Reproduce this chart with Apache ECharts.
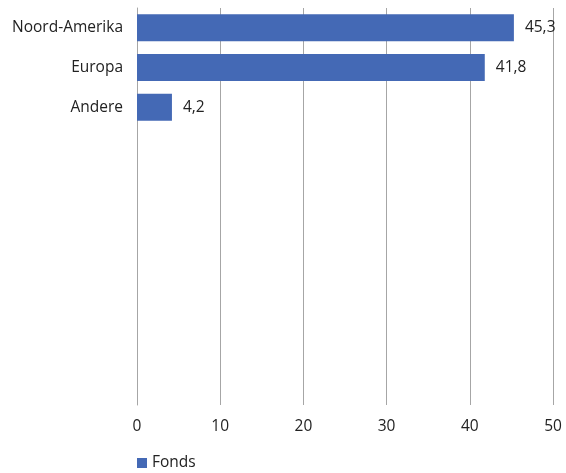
<!DOCTYPE html>
<html>
<head>
<meta charset="utf-8">
<script src="https://cdn.jsdelivr.net/npm/echarts@6/dist/echarts.min.js"></script>
<style>
  html, body { margin: 0; padding: 0; background: #fff; }
  #chart { width: 566px; height: 473px; }
</style>
</head>
<body>
<div id="chart"></div>
<script>
// regio's (de lege plekken zijn lege categorieen in het origineel)
var regions = ['Noord-Amerika', 'Europa', 'Andere', ' ', '  ', '   ', '    ', '     ', '      ', '       '];
var fondsValues = [45.3, 41.8, 4.2, null, null, null, null, null, null, null];
var seriesName = 'Fonds';

var myChart = echarts.init(document.getElementById('chart'));
var font = '"Open Sans", "Noto Sans", sans-serif';

var option = {
    animation: false,
    textStyle: { fontFamily: font },
    grid: {
        left: 137,
        right: 13,
        top: 8,
        bottom: 68
    },
    legend: {
        data: [seriesName],
        left: 132,
        bottom: -3,
        icon: 'rect',
        itemWidth: 10,
        itemHeight: 10,
        textStyle: { fontSize: 15.5, color: '#222', fontFamily: font }
    },
    xAxis: {
        type: 'value',
        min: 0,
        max: 50,
        interval: 10,
        axisLine: { show: false },
        axisTick: { show: false },
        splitLine: { show: true, lineStyle: { color: '#a6a6a6', width: 1 } },
        axisLabel: { fontSize: 15.5, color: '#222', margin: 14, fontFamily: font }
    },
    yAxis: {
        type: 'category',
        inverse: true,
        data: regions,
        axisLine: { show: true, lineStyle: { color: '#a6a6a6' } },
        axisTick: { show: false },
        axisLabel: { fontSize: 15.5, color: '#222', margin: 14, fontFamily: font }
    },
    series: [{
        name: seriesName,
        type: 'bar',
        data: fondsValues,
        barWidth: 27,
        itemStyle: { color: '#4469B5' },
        label: {
            show: true,
            position: 'right',
            distance: 11,
            fontSize: 15.5,
            color: '#222',
            fontFamily: font,
            formatter: function (p) { return String(p.value).replace('.', ','); }
        }
    }]
};
myChart.setOption(option, true);
</script>
</body>
</html>
